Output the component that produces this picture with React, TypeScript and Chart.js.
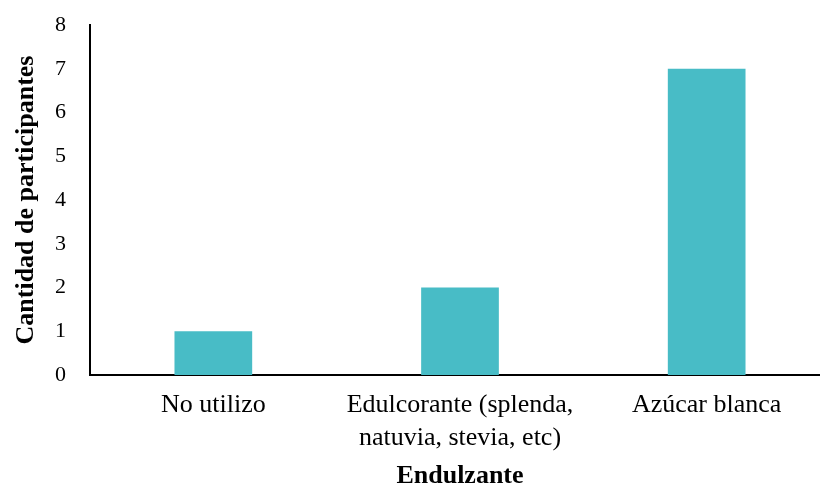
import React, { useEffect, useRef } from "react";
import { Chart, registerables } from "chart.js";

Chart.register(...registerables);

const categories: (string | string[])[] = [
  "No utilizo",
  ["Edulcorante (splenda,", "natuvia, stevia, etc)"],
  "Azúcar blanca",
];
const participants: number[] = [1, 2, 7];
const yTicks: number[] = [0, 1, 2, 3, 4, 5, 6, 7, 8];

const SERIF = '"Liberation Serif", "Times New Roman", serif';
const BAR_COLOR = "#48BCC6";

export default function App() {
  const canvasRef = useRef<HTMLCanvasElement | null>(null);

  useEffect(() => {
    const canvas = canvasRef.current;
    if (!canvas) return;
    const chart = new Chart(canvas, {
      type: "bar",
      data: {
        labels: categories,
        datasets: [
          {
            label: "Cantidad de participantes",
            data: participants,
            backgroundColor: BAR_COLOR,
            borderWidth: 0,
            categoryPercentage: 1,
            barPercentage: 0.315,
          },
        ],
      },
      options: {
        animation: false,
        responsive: true,
        maintainAspectRatio: false,
        layout: { padding: { top: 25, right: 0, bottom: 0, left: 0 } },
        plugins: {
          legend: { display: false },
          tooltip: { enabled: false },
        },
        scales: {
          x: {
            grid: { display: false, drawTicks: false },
            border: { display: true, color: "#000", width: 2 },
            ticks: {
              color: "#000",
              padding: 14,
              maxRotation: 0,
              autoSkip: false,
              font: { family: SERIF, size: 26, lineHeight: 1.25 },
            },
            title: {
              display: true,
              text: "Endulzante",
              color: "#000",
              padding: 0,
              font: { family: SERIF, size: 26, weight: "bold", lineHeight: 1 },
            },
            afterFit: (scale: any) => {
              scale.height = 114;
            },
          },
          y: {
            min: 0,
            max: 8,
            afterBuildTicks: (scale: any) => {
              scale.ticks = yTicks.map((v) => ({ value: v }));
            },
            grid: { display: false, drawTicks: false },
            border: { display: true, color: "#000", width: 2 },
            ticks: {
              color: "#000",
              padding: 24,
              font: { family: SERIF, size: 22 },
            },
            title: {
              display: true,
              text: "Cantidad de participantes",
              color: "#000",
              padding: { top: 13, bottom: 0 },
              font: { family: SERIF, size: 26, weight: "bold", lineHeight: 1 },
            },
            afterFit: (scale: any) => {
              scale.width = 90;
              scale.paddingTop = 0;
              scale.paddingBottom = 0;
            },
          },
        },
      },
    });
    return () => chart.destroy();
  }, []);

  return (
    <div
      style={{
        position: "fixed",
        left: 0,
        top: 0,
        width: 820,
        height: 489,
        overflow: "hidden",
        background: "#fff",
      }}
    >
      <div style={{ position: "relative", width: 830, height: 489 }}>
        <canvas ref={canvasRef} />
      </div>
    </div>
  );
}
